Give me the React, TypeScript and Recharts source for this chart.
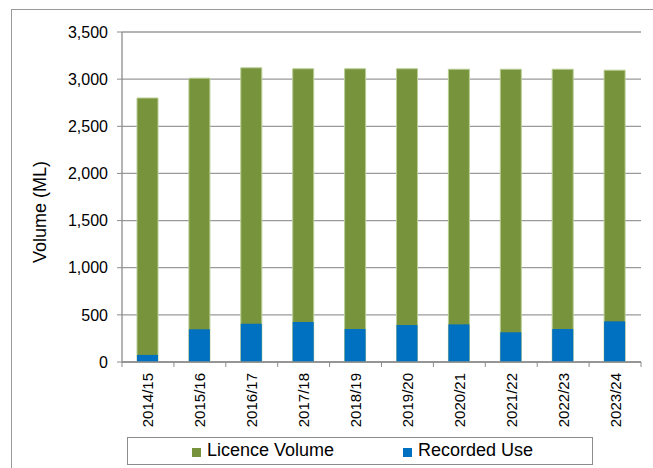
import React from "react";
import { BarChart, Bar, XAxis, YAxis, CartesianGrid } from "recharts";

const years = ["2014/15", "2015/16", "2016/17", "2017/18", "2018/19", "2019/20", "2020/21", "2021/22", "2022/23", "2023/24"];
const licenceVolume = [2800, 3010, 3120, 3110, 3110, 3110, 3105, 3105, 3105, 3095];
const recordedUse = [75, 347, 406, 424, 350, 392, 399, 315, 350, 431];
const yTicks = [0, 500, 1000, 1500, 2000, 2500, 3000, 3500];

const data = years.map((year, i) => ({ year, licence: licenceVolume[i], recorded: recordedUse[i] }));

const GREEN = "#77933C";
const BLUE = "#0070C0";
const AXIS = "#8c8c8c";
const GRID = "#9a9a9a";
const FONT = "'Liberation Sans', Arial, sans-serif";

const W = 653;
const H = 468;
const margin = { top: 32, right: 12, left: 0, bottom: 36 };
const Y_WIDTH = 122;
const BAR = 21;
const bandWidth = (W - margin.right - margin.left - Y_WIDTH) / years.length;

const XTick = (props: any) => {
  const { x, y, payload, index } = props;
  return (
    <g>
      <line x1={x - bandWidth / 2} x2={x - bandWidth / 2} y1={y} y2={y + 5} stroke={AXIS} />
      {index === years.length - 1 && (
        <line x1={x + bandWidth / 2} x2={x + bandWidth / 2} y1={y} y2={y + 5} stroke={AXIS} />
      )}
      <text
        transform={`translate(${x},${y + 11}) rotate(-90)`}
        textAnchor="end"
        dominantBaseline="central"
        fontSize={15}
        fontFamily={FONT}
        fill="#000"
      >
        {payload.value}
      </text>
    </g>
  );
};

const YLabel = (props: any) => {
  const { viewBox } = props;
  const cy = viewBox.y + viewBox.height / 2 + 15;
  return (
    <text
      transform={`translate(40,${cy}) rotate(-90)`}
      textAnchor="middle"
      dominantBaseline="central"
      fontSize={18}
      fontFamily={FONT}
      fill="#000"
    >
      Volume (ML)
    </text>
  );
};

const LegendBox = () => (
  <div
    style={{
      position: "absolute",
      left: 127,
      top: 437,
      boxSizing: "border-box",
      width: 466,
      height: 28,
      border: "1px solid #8c8c8c",
      fontFamily: FONT,
      fontSize: 18,
      color: "#000",
    }}
  >
    <span style={{ position: "absolute", left: 64, top: 10, width: 9, height: 9, background: GREEN }} />
    <span style={{ position: "absolute", left: 79, top: 2 }}>Licence Volume</span>
    <span style={{ position: "absolute", left: 275, top: 10, width: 9, height: 9, background: BLUE }} />
    <span style={{ position: "absolute", left: 290, top: 2 }}>Recorded Use</span>
  </div>
);

export default function App() {
  return (
    <div style={{ position: "absolute", left: 0, top: 0, width: W, height: H, overflow: "hidden", background: "#fff" }}>
      <div
        style={{
          position: "absolute",
          left: 11,
          top: 9,
          width: 800,
          height: 600,
          border: "1px solid #9a9a9a",
        }}
      />
      <div style={{ position: "absolute", left: 0, top: 0 }}>
        <BarChart width={W} height={H} data={data} margin={margin} barGap={-BAR}>
          <CartesianGrid vertical={false} stroke={GRID} strokeWidth={1.3} />
          <XAxis
            dataKey="year"
            interval={0}
            height={70}
            axisLine={{ stroke: AXIS, strokeWidth: 1.3 }}
            tickLine={false}
            tickSize={0}
            tickMargin={0}
            tick={<XTick />}
          />
          <YAxis
            width={Y_WIDTH}
            domain={[0, 3500]}
            ticks={yTicks}
            interval={0}
            tickFormatter={(v: number) => v.toLocaleString("en-US")}
            axisLine={{ stroke: AXIS, strokeWidth: 1.3 }}
            tickLine={{ stroke: AXIS }}
            tickSize={5}
            tickMargin={9}
            tick={{ fontSize: 16, fontFamily: FONT, fill: "#000" }}
            label={{ content: <YLabel /> } as any}
          />
          <YAxis
            yAxisId="right"
            orientation="right"
            width={0}
            tick={false}
            tickLine={false}
            axisLine={{ stroke: AXIS, strokeWidth: 1.3 }}
          />
          <Bar dataKey="licence" name="Licence Volume" fill={GREEN} stroke="#b9cd94" strokeWidth={1} barSize={BAR} isAnimationActive={false} />
          <Bar dataKey="recorded" name="Recorded Use" fill={BLUE} barSize={BAR} isAnimationActive={false} />
        </BarChart>
      </div>
      <LegendBox />
    </div>
  );
}
